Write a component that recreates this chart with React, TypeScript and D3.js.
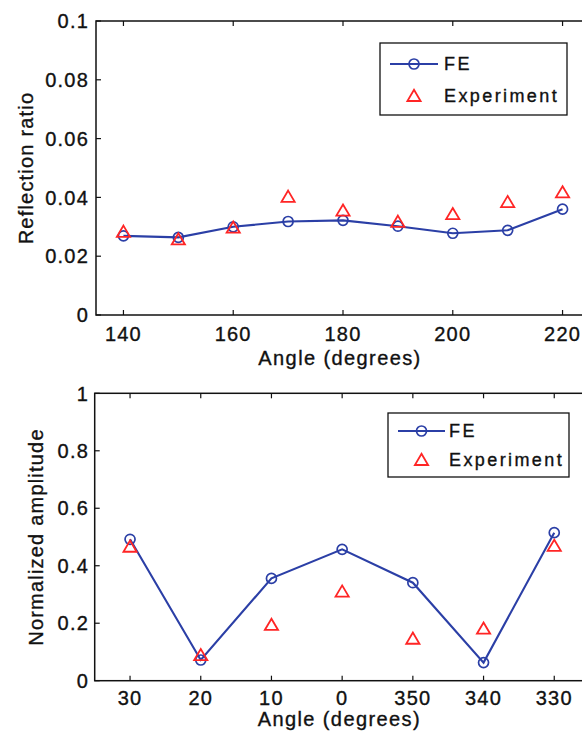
import React from "react";
import * as d3 from "d3";

const topAngles = [140, 150, 160, 170, 180, 190, 200, 210, 220];
const topFE = [0.0269, 0.0264, 0.03, 0.0318, 0.0322, 0.0302, 0.0278, 0.0288, 0.036];
const topExp = [0.0283, 0.0257, 0.0297, 0.0402, 0.0355, 0.0317, 0.0343, 0.0384, 0.0417];
const topXTicks = [140, 160, 180, 200, 220];
const topYTicks = [0, 0.02, 0.04, 0.06, 0.08, 0.1];
const topYTickLabels = ["0", "0.02", "0.04", "0.06", "0.08", "0.1"];

const bottomAngles = ["30", "20", "10", "0", "350", "340", "330"];
const bottomFE = [0.492, 0.072, 0.356, 0.457, 0.341, 0.063, 0.515];
const bottomExp = [0.466, 0.089, 0.194, 0.31, 0.146, 0.181, 0.469];
const bottomYTicks = [0, 0.2, 0.4, 0.6, 0.8, 1];
const bottomYTickLabels = ["0", "0.2", "0.4", "0.6", "0.8", "1"];

const BLUE = "#2b3fa6";
const RED = "#ff2525";
const FONT = "'Liberation Sans', Arial, sans-serif";
const TXT = { fill: "#111", stroke: "#111", strokeWidth: 0.35 };

const tri = (cx: number, cy: number) =>
  `M${cx},${cy - 6.2}L${cx + 6.6},${cy + 5}L${cx - 6.6},${cy + 5}Z`;

type PanelProps = {
  xs: number[];
  fe: number[];
  exp: number[];
  xDomain: [number, number];
  xRange: [number, number];
  yDomain: [number, number];
  yRange: [number, number];
  xTickVals: number[];
  xTickLabels: string[];
  yTickVals: number[];
  yTickLabels: string[];
  yLabel: string;
  yLabelX: number;
  xTickBaseline: number;
  xLabelBaseline: number;
  legend: { left: number; top: number; right: number; bottom: number; lineX0: number; lineX1: number; textX: number; y1: number; y2: number };
};

function Panel(p: PanelProps) {
  const x = d3.scaleLinear().domain(p.xDomain).range(p.xRange);
  const y = d3.scaleLinear().domain(p.yDomain).range(p.yRange);
  const pts = p.xs.map((v, i) => [x(v), y(p.fe[i])] as [number, number]);
  const line = d3.line()(pts) || "";
  const [x0, x1] = p.xRange;
  const [yb, yt] = p.yRange;
  const tl = 5;
  const L = p.legend;
  const cx = (L.lineX0 + L.lineX1) / 2;
  return (
    <g fontFamily={FONT}>
      <rect x={x0} y={yt} width={x1 - x0} height={yb - yt} fill="white" stroke="#111" strokeWidth={1.5} />
      {p.xTickVals.map((v, i) => (
        <g key={"xt" + i}>
          <line x1={x(v)} x2={x(v)} y1={yb} y2={yb - tl} stroke="#111" strokeWidth={1.2} />
          <line x1={x(v)} x2={x(v)} y1={yt} y2={yt + tl} stroke="#111" strokeWidth={1.2} />
          <text x={x(v)} y={p.xTickBaseline} textAnchor="middle" fontSize={20} letterSpacing={1.2} {...TXT}>
            {p.xTickLabels[i]}
          </text>
        </g>
      ))}
      {p.yTickVals.map((v, i) => (
        <g key={"yt" + i}>
          <line x1={x0} x2={x0 + tl} y1={y(v)} y2={y(v)} stroke="#111" strokeWidth={1.2} />
          <line x1={x1} x2={x1 - tl} y1={y(v)} y2={y(v)} stroke="#111" strokeWidth={1.2} />
          <text x={89} y={y(v)} dy="0.36em" textAnchor="end" fontSize={20} letterSpacing={1.2} {...TXT}>
            {p.yTickLabels[i]}
          </text>
        </g>
      ))}
      <path d={line} fill="none" stroke={BLUE} strokeWidth={2.1} />
      {pts.map(([px, py], i) => (
        <circle key={"c" + i} cx={px} cy={py} r={5} fill="none" stroke={BLUE} strokeWidth={1.7} />
      ))}
      {p.xs.map((v, i) => (
        <path key={"t" + i} d={tri(x(v), y(p.exp[i]))} fill="none" stroke={RED} strokeWidth={1.8} />
      ))}
      <text x={(x0 + 590) / 2 - 3} y={p.xLabelBaseline} textAnchor="middle" fontSize={20} letterSpacing={1.4} {...TXT}>
        Angle (degrees)
      </text>
      <text
        transform={`translate(${p.yLabelX},${(yb + yt) / 2}) rotate(-90)`}
        textAnchor="middle"
        fontSize={20}
        letterSpacing={1.2}
        {...TXT}
      >
        {p.yLabel}
      </text>
      <rect x={L.left} y={L.top} width={L.right - L.left} height={L.bottom - L.top} fill="white" stroke="#111" strokeWidth={1.3} />
      <line x1={L.lineX0} x2={L.lineX1} y1={L.y1} y2={L.y1} stroke={BLUE} strokeWidth={2.1} />
      <circle cx={cx} cy={L.y1} r={5} fill="none" stroke={BLUE} strokeWidth={1.7} />
      <text x={L.textX} y={L.y1} dy="0.36em" fontSize={18} letterSpacing={2.4} {...TXT}>FE</text>
      <path d={tri(cx, L.y2)} fill="none" stroke={RED} strokeWidth={1.8} />
      <text x={L.textX} y={L.y2} dy="0.36em" fontSize={18} letterSpacing={2.4} {...TXT}>Experiment</text>
    </g>
  );
}

export default function App() {
  const idx = bottomAngles.map((_, i) => i);
  return (
    <svg width={582} height={733} style={{ position: "absolute", left: 0, top: 0, background: "white" }}>
      <rect width={582} height={733} fill="white" />
      <Panel
        xs={topAngles}
        fe={topFE}
        exp={topExp}
        xDomain={[135, 225]}
        xRange={[96, 590]}
        yDomain={[0, 0.1]}
        yRange={[315, 21]}
        xTickVals={topXTicks}
        xTickLabels={topXTicks.map(String)}
        yTickVals={topYTicks}
        yTickLabels={topYTickLabels}
        yLabel="Reflection ratio"
        yLabelX={33}
        xTickBaseline={341}
        xLabelBaseline={365}
        legend={{ left: 380, top: 43, right: 567, bottom: 115, lineX0: 390, lineX1: 438, textX: 444, y1: 64, y2: 96 }}
      />
      <Panel
        xs={idx}
        fe={bottomFE}
        exp={bottomExp}
        xDomain={[-0.5, 6.5]}
        xRange={[94.7, 589.6]}
        yDomain={[0, 1]}
        yRange={[680.7, 393.3]}
        xTickVals={idx}
        xTickLabels={bottomAngles}
        yTickVals={bottomYTicks}
        yTickLabels={bottomYTickLabels}
        yLabel="Normalized amplitude"
        yLabelX={43}
        xTickBaseline={705}
        xLabelBaseline={726}
        legend={{ left: 388, top: 413, right: 569, bottom: 477, lineX0: 398, lineX1: 445, textX: 449, y1: 431, y2: 460 }}
      />
    </svg>
  );
}
